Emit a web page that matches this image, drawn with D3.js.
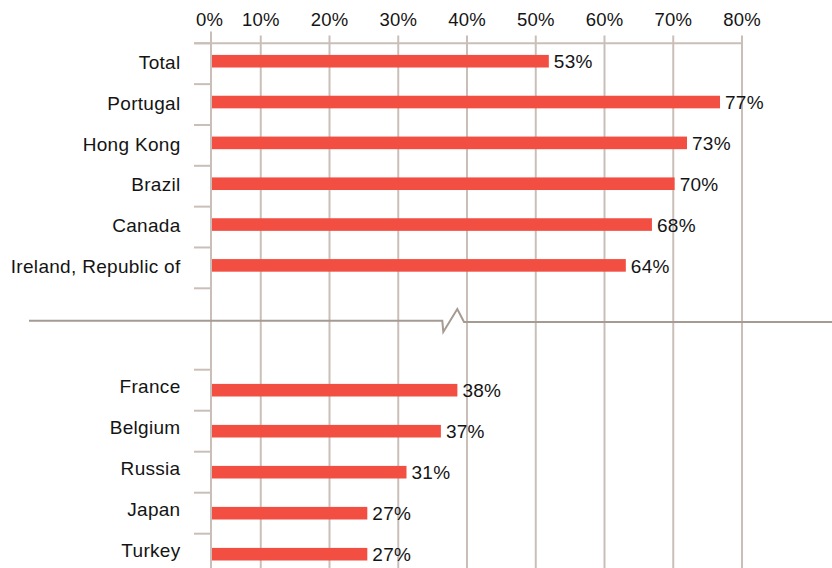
<!DOCTYPE html>
<html>
<head>
<meta charset="utf-8">
<script src="https://cdn.jsdelivr.net/npm/d3@7"></script>
<style>
  body { margin: 0; background: #fff; }
  text { font-family: "Liberation Sans", Arial, sans-serif; fill: #141414; }
</style>
</head>
<body>
<script>
// top block (above the break) and bottom block (below it)
const topCountries = ["Total", "Portugal", "Hong Kong", "Brazil", "Canada", "Ireland, Republic of"];
const topLabels = ["53%", "77%", "73%", "70%", "68%", "64%"];
const topBars = [51.9, 76.8, 72.0, 70.2, 66.9, 63.1];   // bar length as drawn

const bottomCountries = ["France", "Belgium", "Russia", "Japan", "Turkey"];
const bottomLabels = ["38%", "37%", "31%", "27%", "27%"];
const bottomBars = [38.6, 36.2, 31.2, 25.5, 25.5];

const tickValues = [10, 20, 30, 40, 50, 60, 70, 80];

const width = 832, height = 568;
const gridColor = "#c9bfb8";
const breakColor = "#a59b93";
const barColor = "#f24e42";
const axisX = 211;

const svg = d3.select("body").append("svg")
    .attr("width", width)
    .attr("height", height);

const x = d3.scaleLinear().domain([0, 80]).range([192, 742]);

const yTop = d3.scaleBand().domain(topCountries).range([43.3, 288.3]);
const yBottom = d3.scaleBand().domain(bottomCountries).range([369.7, 574.7]);

// vertical gridlines
svg.selectAll(".grid")
    .data(tickValues)
    .join("line")
    .attr("x1", d => x(d)).attr("x2", d => x(d))
    .attr("y1", 35.5).attr("y2", height)
    .attr("stroke", gridColor)
    .attr("stroke-width", 2);

// top axis line
svg.append("line")
    .attr("x1", 194).attr("x2", x(80) + 1)
    .attr("y1", 43.3).attr("y2", 43.3)
    .attr("stroke", gridColor).attr("stroke-width", 2);

// tick labels
svg.selectAll(".tick-label")
    .data(tickValues)
    .join("text")
    .attr("x", d => x(d))
    .attr("y", 25.7)
    .attr("text-anchor", "middle")
    .style("font-size", "18.5px")
    .style("letter-spacing", "0.2px")
    .text(d => d + "%");

svg.append("text")
    .attr("x", axisX - 1.5)
    .attr("y", 25.7)
    .attr("text-anchor", "middle")
    .style("font-size", "18.5px")
    .style("letter-spacing", "0.2px")
    .text("0%");

function drawBlock(y, countries, bars, labels, barShift, labelShift) {
    const bw = y.bandwidth();
    const g = svg.append("g");

    // left ticks at band edges
    const edges = countries.map(c => y(c)).concat([y.range()[1]]);
    g.selectAll(".edge")
        .data(edges)
        .join("line")
        .attr("x1", 194).attr("x2", axisX)
        .attr("y1", d => d).attr("y2", d => d)
        .attr("stroke", gridColor).attr("stroke-width", 2);

    g.selectAll(".bar")
        .data(countries)
        .join("rect")
        .attr("x", axisX + 1)
        .attr("y", d => y(d) + bw / 2 - 6.3 + barShift)
        .attr("width", (d, i) => x(bars[i]) - axisX - 1)
        .attr("height", 12.6)
        .attr("fill", barColor);

    g.selectAll(".value")
        .data(countries)
        .join("text")
        .attr("x", (d, i) => x(bars[i]) + 5)
        .attr("y", d => y(d) + bw / 2 + barShift + 0.5)
        .attr("dy", "0.35em")
        .style("font-size", "19px")
        .style("letter-spacing", "0.3px")
        .text((d, i) => labels[i]);

    g.selectAll(".name")
        .data(countries)
        .join("text")
        .attr("x", 180.5)
        .attr("y", d => y(d) + bw / 2 + labelShift)
        .attr("dy", "0.35em")
        .attr("text-anchor", "end")
        .style("font-size", "19px")
        .style("letter-spacing", "0.3px")
        .text(d => d);
}

drawBlock(yTop, topCountries, topBars, topLabels, -2.5, -1.5);
drawBlock(yBottom, bottomCountries, bottomBars, bottomLabels, 0, -4);

// left axis
svg.append("line")
    .attr("x1", axisX).attr("x2", axisX)
    .attr("y1", 31.5).attr("y2", height)
    .attr("stroke", gridColor).attr("stroke-width", 2);

// axis break
svg.append("path")
    .attr("d", "M29,320.7 L442.3,320.7 L443.3,332 L457.3,309 L464,322 L832,322")
    .attr("fill", "none")
    .attr("stroke", breakColor)
    .attr("stroke-width", 2);
</script>
</body>
</html>
